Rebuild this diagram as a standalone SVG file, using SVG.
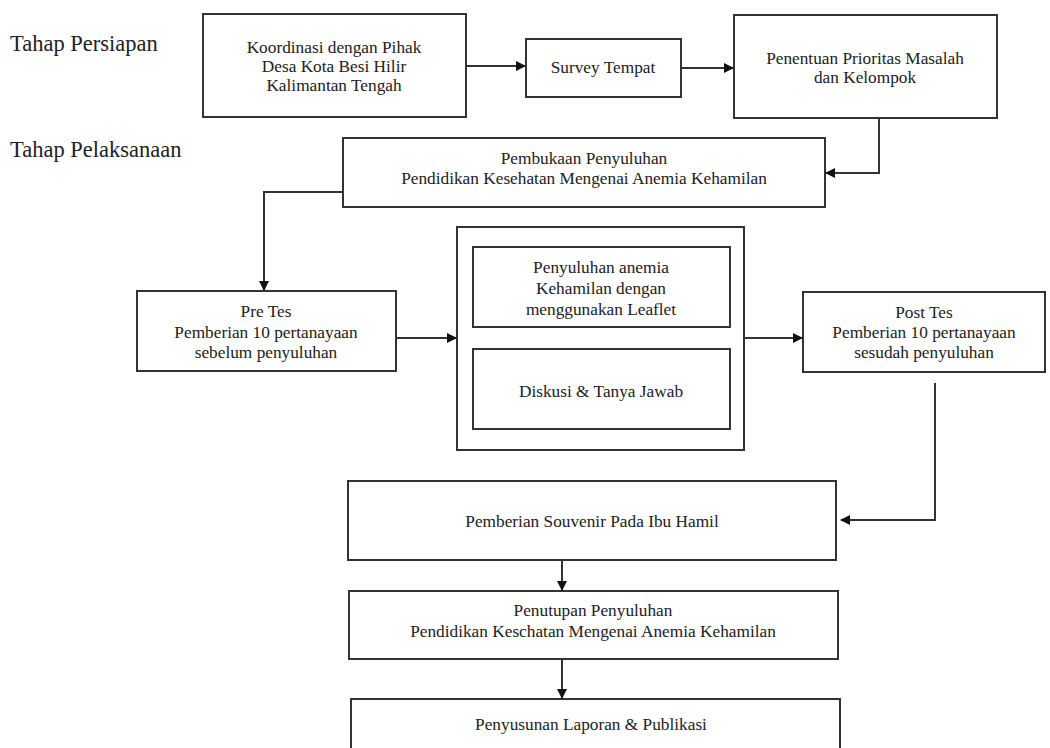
<svg xmlns="http://www.w3.org/2000/svg" width="1050" height="748" viewBox="0 0 1050 748">
<style>
.box{fill:#fff;stroke:#333;stroke-width:2}
.t{font-family:'Liberation Serif','Times New Roman','DejaVu Serif',serif;font-size:17.3px;fill:#222;text-anchor:middle}
.lbl{font-family:'Liberation Serif','Times New Roman','DejaVu Serif',serif;font-size:22.5px;fill:#222}
.c{fill:none;stroke:#333;stroke-width:2}
</style>
<defs>
<marker id="ah" markerWidth="10" markerHeight="10" refX="9" refY="5" orient="auto" markerUnits="userSpaceOnUse">
<path d="M0,0 L10,5 L0,10 Z" fill="#111"/>
</marker>
</defs>
<rect width="1050" height="748" fill="#fff"/>
<text class="lbl" x="10" y="51">Tahap Persiapan</text>
<text class="lbl" x="10" y="157">Tahap Pelaksanaan</text>

<g id="koordinasi"><rect class="box" x="203" y="14" width="263" height="103"/>
<text class="t" x="334" y="53">Koordinasi dengan Pihak</text>
<text class="t" x="334" y="72">Desa Kota Besi Hilir</text>
<text class="t" x="334" y="91">Kalimantan Tengah</text></g>

<g id="survey"><rect class="box" x="526" y="39" width="155" height="58"/>
<text class="t" x="603" y="73">Survey Tempat</text></g>

<g id="penentuan"><rect class="box" x="734" y="15" width="263" height="103"/>
<text class="t" x="865" y="64">Penentuan Prioritas Masalah</text>
<text class="t" x="865" y="83">dan Kelompok</text></g>

<g id="pembukaan"><rect class="box" x="343" y="138" width="482" height="69"/>
<text class="t" x="584" y="164">Pembukaan Penyuluhan</text>
<text class="t" x="584" y="184">Pendidikan Kesehatan Mengenai Anemia Kehamilan</text></g>

<g id="pretes"><rect class="box" x="137" y="291" width="259" height="80"/>
<text class="t" x="266" y="317">Pre Tes</text>
<text class="t" x="266" y="338">Pemberian 10 pertanayaan</text>
<text class="t" x="266" y="358">sebelum penyuluhan</text></g>

<g id="kegiatan"><rect class="box" x="457" y="227" width="287" height="223"/></g>

<g id="leaflet"><rect class="box" x="473" y="247" width="257" height="80"/>
<text class="t" x="601" y="273">Penyuluhan anemia</text>
<text class="t" x="601" y="294">Kehamilan dengan</text>
<text class="t" x="601" y="315">menggunakan Leaflet</text></g>

<g id="diskusi"><rect class="box" x="473" y="349" width="257" height="80"/>
<text class="t" x="601" y="397">Diskusi &amp; Tanya Jawab</text></g>

<g id="posttes"><rect class="box" x="803" y="292" width="242" height="80"/>
<text class="t" x="924" y="318">Post Tes</text>
<text class="t" x="924" y="338">Pemberian 10 pertanayaan</text>
<text class="t" x="924" y="358">sesudah penyuluhan</text></g>

<g id="souvenir"><rect class="box" x="348" y="481" width="488" height="79"/>
<text class="t" x="592" y="527">Pemberian Souvenir Pada Ibu Hamil</text></g>

<g id="penutupan"><rect class="box" x="349" y="591" width="489" height="68"/>
<text class="t" x="593" y="616">Penutupan Penyuluhan</text>
<text class="t" x="593" y="637">Pendidikan Keschatan Mengenai Anemia Kehamilan</text></g>

<g id="penyusunan"><rect class="box" x="351" y="699" width="489" height="60"/>
<text class="t" x="591" y="730">Penyusunan Laporan &amp; Publikasi</text></g>

<g id="connectors">
<path class="c" d="M466,66 H525" marker-end="url(#ah)"/>
<path class="c" d="M681,68 H733" marker-end="url(#ah)"/>
<path class="c" d="M879,118 V173 H826" marker-end="url(#ah)"/>
<path class="c" d="M343,192 H264 V290" marker-end="url(#ah)"/>
<path class="c" d="M396,338 H456" marker-end="url(#ah)"/>
<path class="c" d="M744,338 H802" marker-end="url(#ah)"/>
<path class="c" d="M935,383 V520 H841" marker-end="url(#ah)"/>
<path class="c" d="M562,560 V590" marker-end="url(#ah)"/>
<path class="c" d="M562,659 V698" marker-end="url(#ah)"/>
</g>
</svg>
